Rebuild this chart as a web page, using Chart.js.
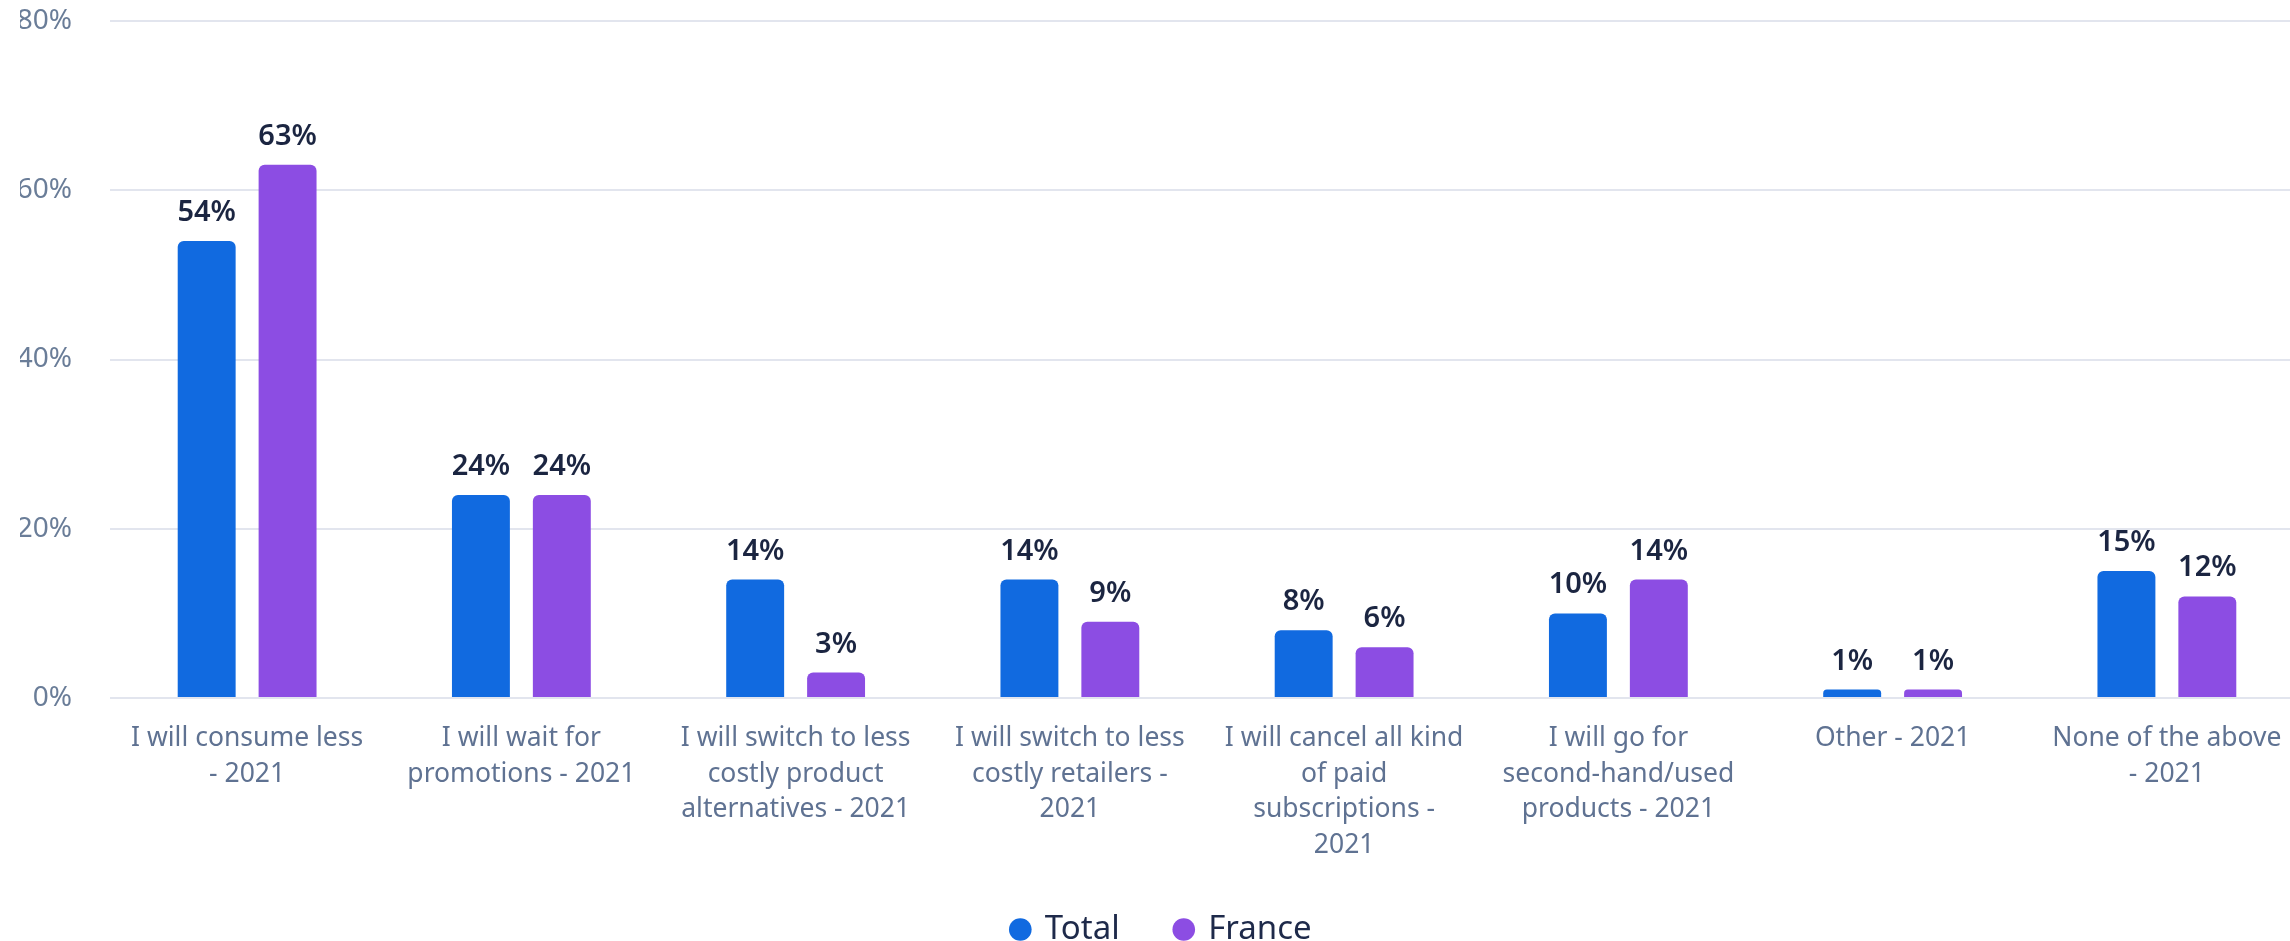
<!DOCTYPE html>
<html>
<head>
<meta charset="utf-8">
<script src="https://cdn.jsdelivr.net/npm/chart.js@4"></script>
<style>
  html, body { margin: 0; padding: 0; background: #fff; overflow: hidden; }
  #wrap { width: 2320px; height: 960px; }
</style>
</head>
<body>
<div id="wrap"><canvas id="reasonsChart"></canvas></div>
<script>
// 카테고리 / 시리즈 값
const categories = [
    ['I will consume less', '- 2021'],
    ['I will wait for', 'promotions - 2021'],
    ['I will switch to less', 'costly product', 'alternatives - 2021'],
    ['I will switch to less', 'costly retailers -', '2021'],
    ['I will cancel all kind', 'of paid', 'subscriptions -', '2021'],
    ['I will go for', 'second-hand/used', 'products - 2021'],
    ['Other - 2021'],
    ['None of the above', '- 2021']
];
const totalValues = [54, 24, 14, 14, 8, 10, 1, 15];
const franceValues = [63, 24, 3, 9, 6, 14, 1, 12];
const yTicks = [0, 20, 40, 60, 80];

const FONT = '"Noto Sans", sans-serif';

// 막대 위 값 라벨
const valueLabels = {
    id: 'valueLabels',
    afterDatasetsDraw(chart) {
        const ctx = chart.ctx;
        ctx.save();
        ctx.font = '600 29px ' + FONT;
        ctx.fillStyle = '#1b2541';
        ctx.textAlign = 'center';
        ctx.textBaseline = 'alphabetic';
        chart.data.datasets.forEach((ds, i) => {
            chart.getDatasetMeta(i).data.forEach((bar, j) => {
                ctx.fillText(ds.data[j] + '%', bar.x, bar.y - 20);
            });
        });
        ctx.restore();
    }
};

const ctx = document.getElementById('reasonsChart').getContext('2d');
new Chart(ctx, {
    type: 'bar',
    data: {
        labels: categories,
        datasets: [{
            label: 'Total',
            data: totalValues,
            backgroundColor: '#116ae0',
            borderRadius: { topLeft: 6, topRight: 6 },
            borderSkipped: 'start',
            categoryPercentage: 0.59,
            barPercentage: 0.716
        }, {
            label: 'France',
            data: franceValues,
            backgroundColor: '#8c4de3',
            borderRadius: { topLeft: 6, topRight: 6 },
            borderSkipped: 'start',
            categoryPercentage: 0.59,
            barPercentage: 0.716
        }]
    },
    options: {
        responsive: true,
        maintainAspectRatio: false,
        animation: false,
        layout: {
            padding: { top: 21, right: 16, left: 20, bottom: 4 }
        },
        scales: {
            y: {
                min: 0,
                max: 80,
                afterBuildTicks: scale => {
                    scale.ticks = yTicks.map(v => ({ value: v }));
                },
                afterFit: scale => { scale.width = 90; },
                border: { display: false },
                grid: {
                    color: '#e2e5ee',
                    lineWidth: 2,
                    drawTicks: true,
                    tickLength: 36,
                    tickColor: 'rgba(0,0,0,0)'
                },
                ticks: {
                    padding: 2,
                    color: '#6a7d98',
                    font: { family: FONT, size: 28 },
                    callback: v => v + '%'
                }
            },
            x: {
                afterFit: scale => { scale.height = 159; },
                border: { display: false },
                grid: { display: false, drawTicks: false },
                ticks: {
                    padding: 23,
                    autoSkip: false,
                    maxRotation: 0,
                    color: '#5f7292',
                    font: { family: FONT, size: 26.5, lineHeight: 1.34 }
                }
            }
        },
        plugins: {
            legend: {
                position: 'bottom',
                labels: {
                    usePointStyle: true,
                    pointStyle: 'circle',
                    boxWidth: 16,
                    boxHeight: 16,
                    padding: 56,
                    color: '#1e2a4a',
                    font: { family: FONT, size: 33 }
                }
            },
            tooltip: { enabled: false }
        }
    },
    plugins: [valueLabels]
});
</script>
</body>
</html>
